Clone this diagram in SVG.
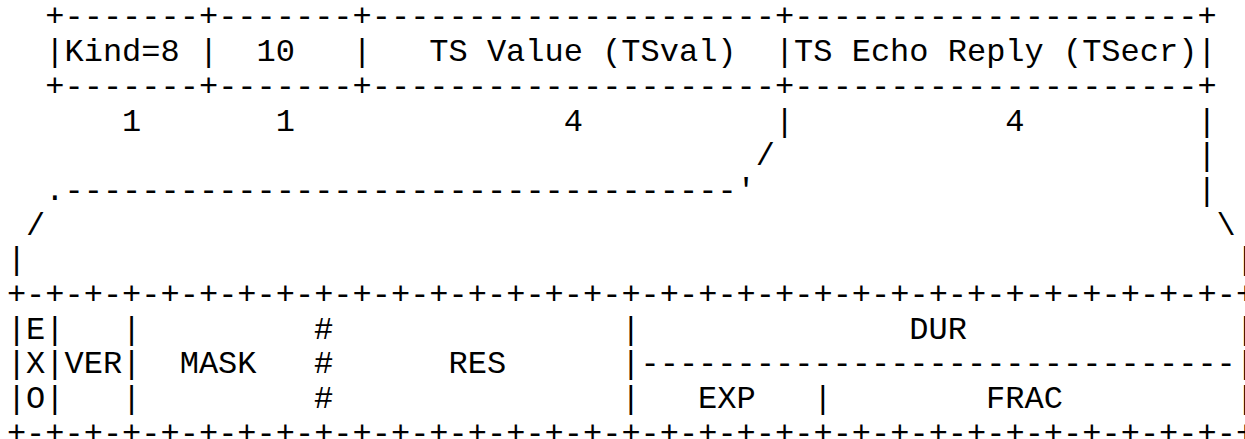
<svg xmlns="http://www.w3.org/2000/svg" width="1245" height="439" viewBox="0 0 1245 439">
<style>
text{font-family:"Liberation Mono","Courier New",monospace;font-size:32px;fill:#000;white-space:pre}
</style>
<rect width="1245" height="439" fill="#fff"/>
<g id="connectors">
<text x="45.3" y="26.4" xml:space="preserve">+-------+-------+---------------------+---------------------+</text>
<text x="45.3" y="61.1">|</text><text x="198.9" y="61.1">|</text><text x="352.5" y="61.1">|</text><text x="774.9" y="61.1">|</text><text x="1197.3" y="61.1">|</text>
<text x="45.3" y="95.8" xml:space="preserve">+-------+-------+---------------------+---------------------+</text>
<text x="774.9" y="130.5">|</text><text x="1197.3" y="130.5">|</text>
<text x="755.7" y="165.2">/</text><text x="1197.3" y="165.2">|</text>
<text x="45.3" y="199.9" xml:space="preserve">.-----------------------------------'</text>
<text x="1197.3" y="199.9">|</text>
<text x="26.1" y="234.6">/</text><text x="1216.5" y="234.6">\</text>
<text x="6.9" y="269.3">|</text><text x="1235.7" y="269.3">|</text>
<text x="6.9" y="304.0" xml:space="preserve">+-+-+-+-+-+-+-+-+-+-+-+-+-+-+-+-+-+-+-+-+-+-+-+-+-+-+-+-+-+-+-+-+</text>
<text x="6.9" y="338.7">|</text><text x="45.3" y="338.7">|</text><text x="122.1" y="338.7">|</text><text x="314.1" y="338.7">#</text><text x="621.3" y="338.7">|</text><text x="1235.7" y="338.7">|</text>
<text x="6.9" y="373.4">|</text><text x="45.3" y="373.4">|</text><text x="122.1" y="373.4">|</text><text x="314.1" y="373.4">#</text><text x="621.3" y="373.4">|</text>
<text x="640.5" y="373.4" xml:space="preserve">-------------------------------|</text>
<text x="6.9" y="408.1">|</text><text x="45.3" y="408.1">|</text><text x="122.1" y="408.1">|</text><text x="314.1" y="408.1">#</text><text x="621.3" y="408.1">|</text><text x="813.3" y="408.1">|</text><text x="1235.7" y="408.1">|</text>
<text x="6.9" y="442.8" xml:space="preserve">+-+-+-+-+-+-+-+-+-+-+-+-+-+-+-+-+-+-+-+-+-+-+-+-+-+-+-+-+-+-+-+-+</text>
</g>
<g id="node-kind"><text x="64.5" y="61.1">Kind=8</text><text x="122.1" y="130.5">1</text></g>
<g id="node-length"><text x="256.5" y="61.1">10</text><text x="275.7" y="130.5">1</text></g>
<g id="node-tsval"><text x="429.3" y="61.1">TS Value (TSval)</text><text x="563.7" y="130.5">4</text></g>
<g id="node-tsecr"><text x="794.1" y="61.1">TS Echo Reply (TSecr)</text><text x="1005.3" y="130.5">4</text></g>
<g id="node-exo"><text x="26.1" y="338.7">E</text><text x="26.1" y="373.4">X</text><text x="26.1" y="408.1">O</text></g>
<g id="node-ver"><text x="64.5" y="373.4">VER</text></g>
<g id="node-mask"><text x="179.7" y="373.4">MASK</text></g>
<g id="node-res"><text x="448.5" y="373.4">RES</text></g>
<g id="node-dur"><text x="909.3" y="338.7">DUR</text></g>
<g id="node-exp"><text x="698.1" y="408.1">EXP</text></g>
<g id="node-frac"><text x="986.1" y="408.1">FRAC</text></g>
</svg>
